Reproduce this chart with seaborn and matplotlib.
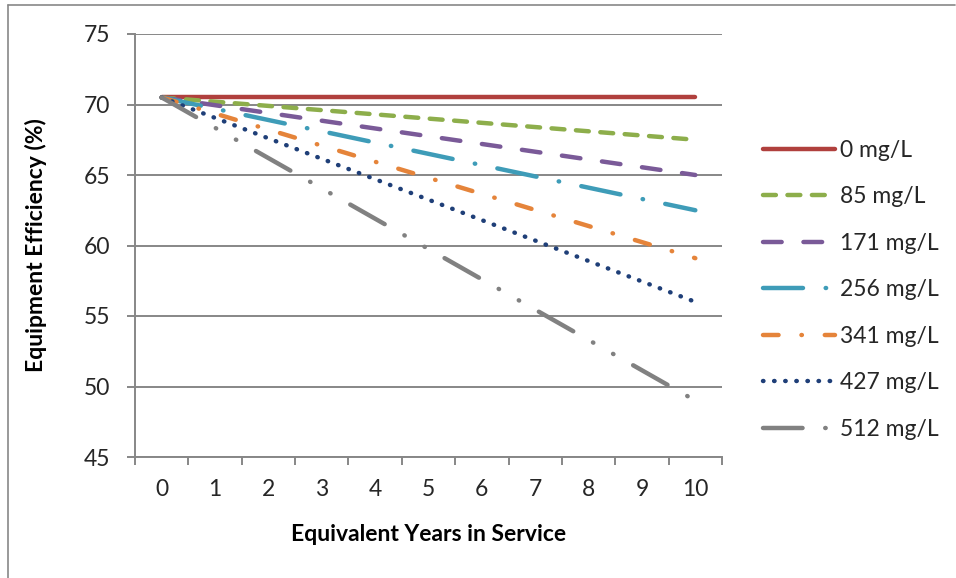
import numpy as np
import matplotlib.pyplot as plt
from matplotlib.lines import Line2D
import seaborn as sns

# data
years = list(range(11))
x_labels = [str(y) for y in years]
series_names = ['0 mg/L', '85 mg/L', '171 mg/L', '256 mg/L', '341 mg/L', '427 mg/L', '512 mg/L']

eff_0 = [70.5, 70.5, 70.5, 70.5, 70.5, 70.5, 70.5, 70.5, 70.5, 70.5, 70.5]
eff_85 = [70.5, 70.2, 69.9, 69.6, 69.3, 69.0, 68.7, 68.4, 68.1, 67.8, 67.5]
eff_171 = [70.5, 69.95, 69.4, 68.85, 68.3, 67.75, 67.2, 66.65, 66.1, 65.55, 65.0]
eff_256 = [70.5, 69.7, 68.9, 68.1, 67.3, 66.5, 65.7, 64.9, 64.1, 63.3, 62.5]
eff_341 = [70.5, 69.36, 68.22, 67.08, 65.94, 64.8, 63.66, 62.52, 61.38, 60.24, 59.1]
eff_427 = [70.5, 69.05, 67.6, 66.15, 64.7, 63.25, 61.8, 60.35, 58.9, 57.45, 56.0]
eff_512 = [70.5, 68.35, 66.2, 64.05, 61.9, 59.75, 57.6, 55.45, 53.3, 51.15, 49.0]
all_series = [eff_0, eff_85, eff_171, eff_256, eff_341, eff_427, eff_512]

colors = ['#B0403D', '#8DAE4B', '#7A5A98', '#3E9CB8', '#E5843A', '#1F3F78', '#818181']
# dash patterns (in linewidth units), Excel-like styles
styles = [
    '-',
    (0, (2.9, 2.6)),                       # dash
    (0, (4.2, 4.9)),                       # long dash
    (0, (9.0, 5.1, 0.1, 5.1)),             # long dash dot
    (0, (3.5, 5.15, 0.1, 5.15)),           # dash dot
    (0, (0.1, 2.4)),                       # round dot
    (0, (8.9, 5.1, 0.1, 5.1, 0.1, 5.1)),   # long dash dot dot
]

sns.set_theme(style="white")
plt.rcParams['font.family'] = ['Lato', 'DejaVu Sans']

grid_col = '#878787'
fs = 16.5

fig = plt.figure(figsize=(9.56, 5.78), dpi=100)
ax = fig.add_axes([135 / 956, 1 - 457 / 578, 587 / 956, 423 / 578])

for name, vals, c, ls in zip(series_names, all_series, colors, styles):
    sns.lineplot(x=years, y=vals, color=c, linewidth=3.2, linestyle=ls,
                 dash_capstyle='round', solid_capstyle='round',
                 label=name, ax=ax, legend=False)

ax.set_xlim(-0.5, 10.5)
ax.set_ylim(45, 75)
ax.set_yticks(np.arange(45, 76, 5))
ax.yaxis.grid(True, color=grid_col, linewidth=1.4)
ax.set_axisbelow(True)

# category axis: tick marks between categories, labels at centres
ax.set_xticks(np.arange(-0.5, 11, 1))
ax.set_xticklabels([])
ax.set_xticks(years, minor=True)
ax.set_xticklabels(x_labels, minor=True)
ax.tick_params(axis='x', which='major', direction='out', length=6, width=1.4,
               color=grid_col, bottom=True)
ax.tick_params(axis='x', which='minor', length=0, pad=16, labelsize=fs)
ax.tick_params(axis='y', direction='out', length=6, width=1.4, color=grid_col,
               left=True, pad=12, labelsize=fs)

for s in ['top', 'right']:
    ax.spines[s].set_visible(False)
for s in ['left', 'bottom']:
    ax.spines[s].set_color(grid_col)
    ax.spines[s].set_linewidth(1.4)

ax.set_xlabel('Equivalent Years in Service', fontsize=fs, fontweight='bold', color='black')
ax.set_ylabel('Equipment Efficiency (%)', fontsize=fs, fontweight='bold', color='black')
ax.xaxis.set_label_coords(0.5, -0.158)
ax.yaxis.set_label_coords(-0.15, 0.5)

leg = ax.legend(loc='upper left', bbox_to_anchor=(763 / 956, 1 - 140 / 578),
                bbox_transform=fig.transFigure, frameon=False, fontsize=fs,
                handlelength=3.14, handletextpad=0.22, labelspacing=1.11,
                borderpad=0, borderaxespad=0)

# chart area border (left and top edges visible)
fig.add_artist(Line2D([8 / 956, 8 / 956], [0, 1 - 5 / 578], color=grid_col, lw=1.2))
fig.add_artist(Line2D([8 / 956, 955 / 956], [1 - 5 / 578, 1 - 5 / 578], color=grid_col, lw=1.2))

plt.savefig('out.png', dpi=100)
